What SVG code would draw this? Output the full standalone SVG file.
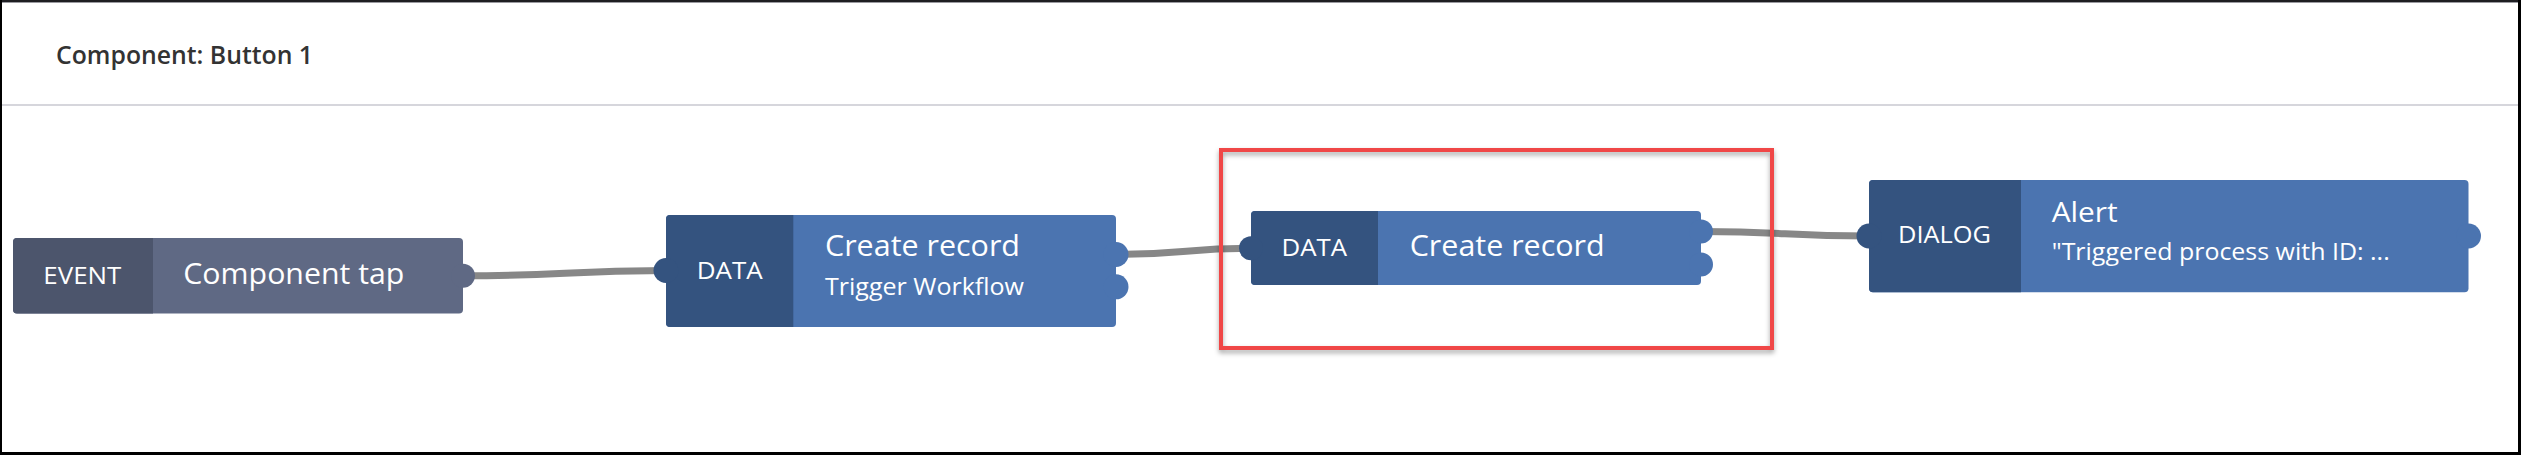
<svg xmlns="http://www.w3.org/2000/svg" width="2521" height="455" viewBox="0 0 2521 455">
<defs>
<style>
.t{font-family:"Open Sans","Liberation Sans",sans-serif;fill:#ffffff}
.tag{font-size:23px}
.main{font-size:29px}
.sub{font-size:24px}
.bdk{fill:#34537f}
.blt{fill:#4b74b0}
.edk{fill:#4c556c}
.elt{fill:#5f6984}
.conn{fill:none;stroke:#878787;stroke-width:7}
</style>
<filter id="sh" x="-5%" y="-10%" width="110%" height="125%">
<feDropShadow dx="0" dy="3" stdDeviation="2.5" flood-color="#000" flood-opacity="0.35"/>
</filter>
</defs>
<rect x="0" y="0" width="2521" height="455" fill="#ffffff"/>
<rect x="0" y="0" width="2521" height="2" fill="#1e1e22"/>
<rect x="0" y="2" width="2521" height="1" fill="#9a9aa0"/>
<rect x="0" y="0" width="2" height="455" fill="#000"/>
<rect x="2518" y="0" width="3" height="455" fill="#000"/>
<rect x="0" y="452" width="2521" height="3" fill="#000"/>
<rect x="2" y="104" width="2516" height="2" fill="#d6d6dc"/>
<text x="56" y="64" font-family="'Open Sans','Liberation Sans',sans-serif" font-size="26" font-weight="600" fill="#333333" textLength="257" lengthAdjust="spacingAndGlyphs">Component: Button 1</text>

<g id="connectors">
<path class="conn" d="M463 275.8 C565 275.8 565 270.5 666 270.5"/>
<path class="conn" d="M1116 254.5 C1183 254.5 1183 248.3 1251 248.3"/>
<path class="conn" d="M1701 231.5 C1785 231.5 1785 236 1869 236"/>
</g>

<g id="node-event">
<rect class="elt" x="13" y="238" width="450" height="75.5" rx="4"/>
<path class="edk" d="M153 238 V313.5 H17 Q13 313.5 13 309.5 V242 Q13 238 17 238 Z"/>
<circle class="elt" cx="463" cy="275.8" r="12"/>
<text class="t tag" x="43.3" y="284.3" textLength="78" lengthAdjust="spacingAndGlyphs">EVENT</text>
<text class="t" x="183.3" y="284.3" font-size="30" textLength="221" lengthAdjust="spacingAndGlyphs">Component tap</text>
</g>

<g id="node-data-1">
<rect class="blt" x="666" y="215" width="450" height="112" rx="4"/>
<path class="bdk" d="M793.3 215 V327 H670 Q666 327 666 323 V219 Q666 215 670 215 Z"/>
<circle class="bdk" cx="666" cy="270.5" r="12.5"/>
<circle class="blt" cx="1116" cy="254.5" r="12.5"/>
<circle class="blt" cx="1116" cy="286.8" r="12.5"/>
<text class="t tag" x="696.7" y="279" textLength="66" lengthAdjust="spacingAndGlyphs">DATA</text>
<text class="t main" x="825" y="256" textLength="195" lengthAdjust="spacingAndGlyphs">Create record</text>
<text class="t sub" x="825" y="295" textLength="199" lengthAdjust="spacingAndGlyphs">Trigger Workflow</text>
</g>

<g id="node-data-2">
<rect class="blt" x="1251" y="211" width="450" height="74" rx="4"/>
<path class="bdk" d="M1378 211 V285 H1255 Q1251 285 1251 281 V215 Q1251 211 1255 211 Z"/>
<circle class="bdk" cx="1251" cy="248.3" r="12"/>
<circle class="blt" cx="1701" cy="231.5" r="12"/>
<circle class="blt" cx="1701" cy="264.5" r="12"/>
<text class="t tag" x="1281.5" y="256" textLength="65.5" lengthAdjust="spacingAndGlyphs">DATA</text>
<text class="t main" x="1409.7" y="256" textLength="195" lengthAdjust="spacingAndGlyphs">Create record</text>
</g>

<g id="highlight">
<rect x="1221" y="150" width="551" height="198" fill="none" stroke="#f04646" stroke-width="4" filter="url(#sh)"/>
</g>

<g id="node-dialog">
<rect class="blt" x="1869" y="180" width="599.5" height="112.3" rx="4"/>
<path class="bdk" d="M2021 180 V292.3 H1873 Q1869 292.3 1869 288.3 V184 Q1869 180 1873 180 Z"/>
<circle class="bdk" cx="1869" cy="236" r="12.5"/>
<circle class="blt" cx="2468.5" cy="236" r="12.5"/>
<text class="t tag" x="1898" y="243.3" textLength="93" lengthAdjust="spacingAndGlyphs">DIALOG</text>
<text class="t" x="2051.7" y="221.7" font-size="28" textLength="66" lengthAdjust="spacingAndGlyphs">Alert</text>
<text class="t sub" x="2051.7" y="260" textLength="338" lengthAdjust="spacingAndGlyphs">"Triggered process with ID: ...</text>
</g>
</svg>
